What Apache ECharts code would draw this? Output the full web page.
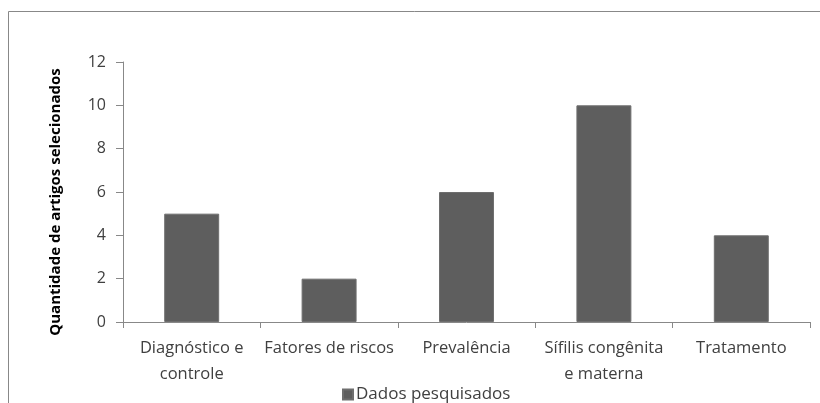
<!DOCTYPE html>
<html>
<head>
<meta charset="utf-8">
<script src="https://cdn.jsdelivr.net/npm/echarts@6/dist/echarts.min.js"></script>
<style>
html,body{margin:0;padding:0;background:#fff;}
#chart{width:820px;height:403px;}
</style>
</head>
<body>
<div id="chart"></div>
<script>
// Artigos selecionados por tema
const categories = ['Diagnóstico e\ncontrole', 'Fatores de riscos', 'Prevalência', 'Sífilis congênita\ne materna', 'Tratamento'];
const values = [5, 2, 6, 10, 4];
const seriesName = 'Dados pesquisados';
const yTitle = 'Quantidade de artigos selecionados';

const font = '"Open Sans", "Noto Sans", sans-serif';
const axisGray = '#888888';
const textColor = '#404040';
const barColor = '#5e5e5e';

const chart = echarts.init(document.getElementById('chart'), null, { renderer: 'canvas' });
chart.setOption({
  animation: false,
  textStyle: { fontFamily: font },
  graphic: [{
    type: 'rect',
    shape: { x: 8.5, y: 11.5, width: 840, height: 420 },
    style: { fill: 'none', stroke: axisGray, lineWidth: 1 },
    z: -1
  }],
  grid: { left: 123, right: 10, top: 62, bottom: 81, containLabel: false },
  legend: {
    data: [seriesName],
    left: 337,
    top: 381,
    icon: 'rect',
    itemWidth: 10,
    itemHeight: 10,
    itemGap: 4,
    textStyle: { fontFamily: font, fontSize: 17, color: textColor, padding: [0, 0, 0, -2] }
  },
  xAxis: {
    type: 'category',
    data: categories,
    axisLine: { lineStyle: { color: axisGray } },
    axisTick: { show: true, alignWithLabel: false, length: 6, lineStyle: { color: axisGray } },
    axisLabel: { fontFamily: font, fontSize: 16.5, color: textColor, lineHeight: 26, margin: 13, interval: 0 }
  },
  yAxis: {
    type: 'value',
    min: 0, max: 12, interval: 2,
    name: yTitle,
    nameLocation: 'middle',
    nameGap: 60,
    nameTextStyle: { fontFamily: font, fontSize: 15, fontWeight: 'bold', color: '#000', padding: [0, 20, 0, 0] },
    axisLine: { show: true, lineStyle: { color: axisGray } },
    axisTick: { show: true, length: 7, lineStyle: { color: axisGray } },
    splitLine: { show: false },
    axisLabel: { fontFamily: font, fontSize: 16, color: textColor, margin: 17 }
  },
  series: [{
    name: seriesName,
    type: 'bar',
    data: values,
    barWidth: '40%',
    itemStyle: { color: barColor, borderColor: '#6e6e6e', borderWidth: 1 }
  }]
});
</script>
</body>
</html>
